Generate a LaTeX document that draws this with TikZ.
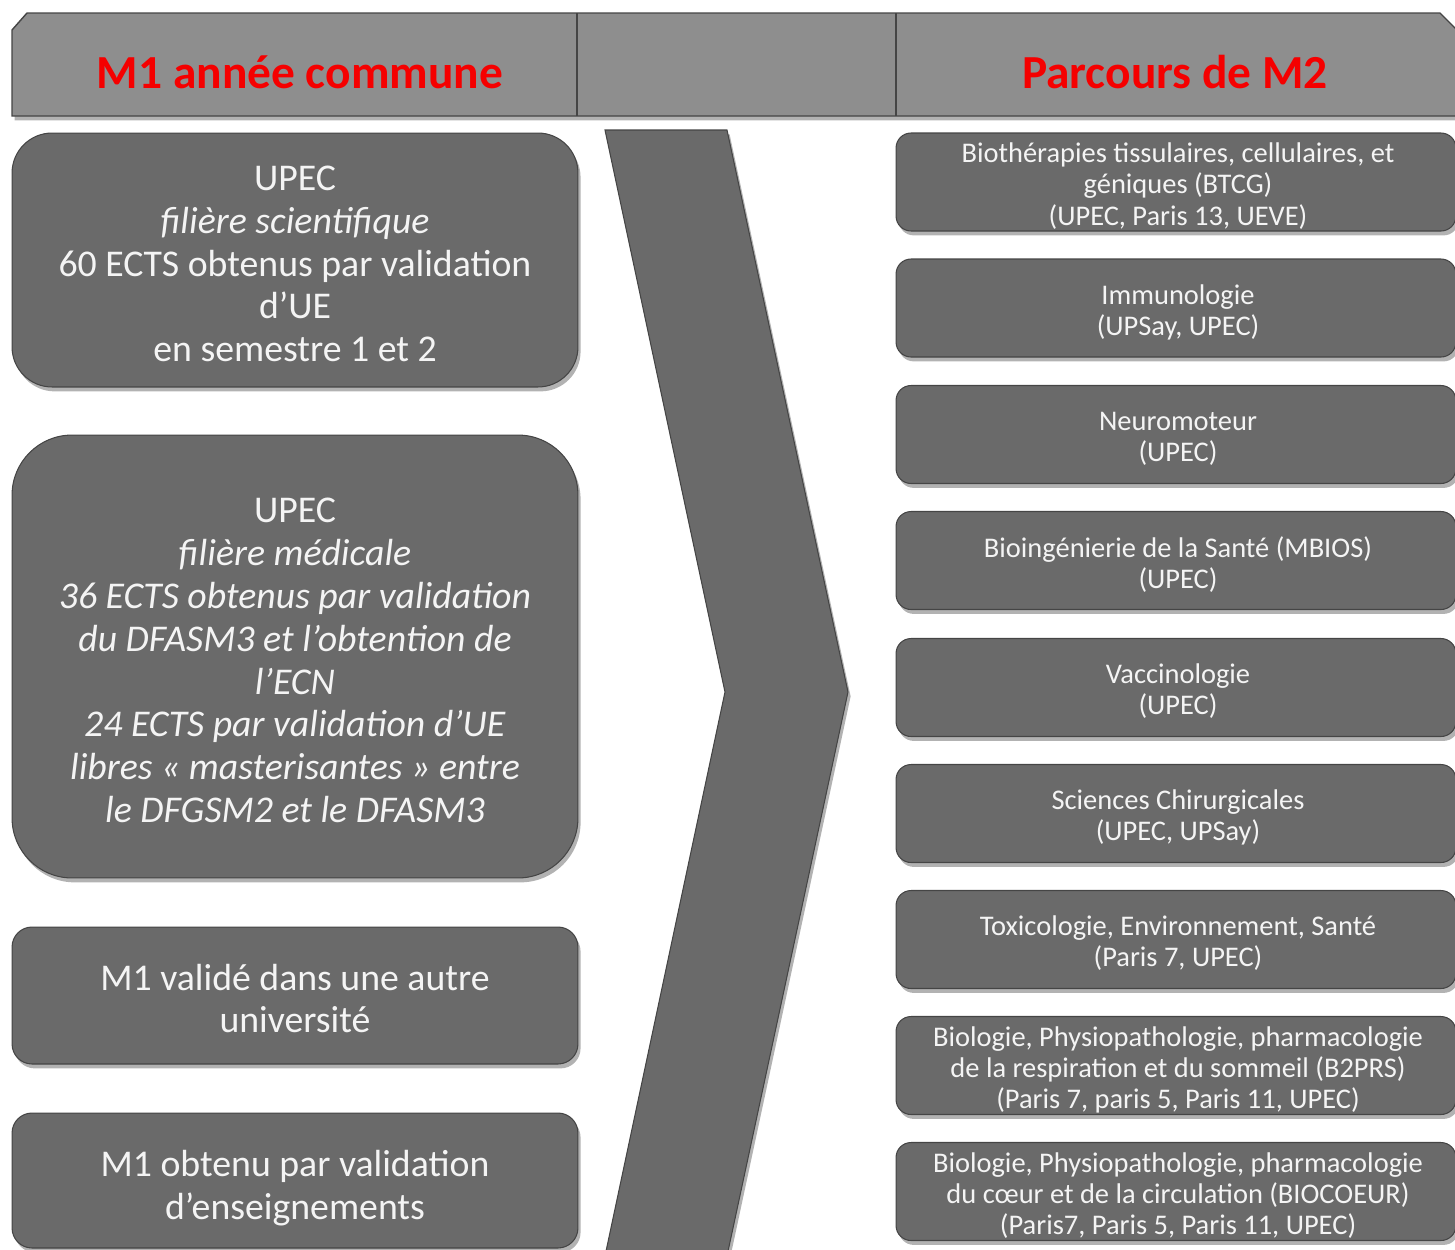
\documentclass[tikz,border=0pt]{standalone}
\usepackage{fontspec}
\setmainfont{Carlito}
\usetikzlibrary{shadows}
\definecolor{hdrfill}{HTML}{8E8E8E}
\definecolor{boxfill}{HTML}{6A6A6A}
\definecolor{edge}{HTML}{454545}
\definecolor{txt}{HTML}{F4F4F4}
\definecolor{titlered}{HTML}{F50000}
\begin{document}
\begin{tikzpicture}[x=0.02cm,y=-0.02cm,
  shd/.style={drop shadow={shadow xshift=1.5pt,shadow yshift=-2.5pt,opacity=0.3,fill=black}},
  leftbox/.style={shd,draw=edge,line width=0.6pt,fill=boxfill,minimum width=11.32cm,inner sep=0pt},
  lefttext/.style={text=txt,align=center,font=\fontsize{21.5}{24.4}\selectfont,inner sep=0pt},
  rightbox/.style={shd,draw=edge,line width=0.6pt,fill=boxfill,minimum width=11.2cm,minimum height=1.96cm,
     rounded corners=0.3cm,inner sep=0pt},
  righttext/.style={text=txt,align=center,font=\fontsize{16.2}{17.7}\selectfont,inner sep=0pt},
  titletext/.style={text=titlered,font=\fontsize{27}{32}\selectfont\bfseries},
]
\path[use as bounding box] (0,0) rectangle (1455,1249);

% header band
\path[shd,draw=edge,line width=0.8pt,fill=hdrfill]
  (12,30) -- (27,13) -- (1440,13) -- (1457,30) -- (1457,116) -- (12,116) -- cycle;
\coordinate (d1t) at (577,13); \coordinate (d1b) at (577,116);
\coordinate (d2t) at (896,13); \coordinate (d2b) at (896,116);
\draw[edge,line width=0.8pt] (d1t) -- (d1b);
\draw[edge,line width=0.8pt] (d2t) -- (d2b);
\node[titletext] (t1) at (300,72) {M1 année commune};
\node[titletext] (t2) at (1175,72) {Parcours de M2};

% chevron
\path[shd,draw=edge,line width=0.6pt,fill=boxfill]
  (605,130) -- (727,130) -- (848,692) -- (727,1256) -- (605,1256) -- (725,692) -- cycle;

% left boxes
\node[leftbox,minimum height=5.08cm,rounded corners=0.8cm] (l1) at (295,260) {};
\node[lefttext] (l1t) at (295,264)
  {UPEC\\ \textit{filière scientifique}\\ 60 ECTS obtenus par validation\\ d’UE\\ en semestre 1 et 2};
\node[leftbox,minimum height=8.86cm,rounded corners=1.2cm] (l2) at (295,656.5) {};
\node[lefttext] (l2t) at (295,660.5)
  {UPEC\\ \textit{filière médicale}\\ \textit{36 ECTS obtenus par validation}\\ \textit{du DFASM3 et l’obtention de}\\ \textit{l’ECN}\\ \textit{24 ECTS par validation d’UE}\\ \textit{libres « masterisantes » entre}\\ \textit{le DFGSM2 et le DFASM3}};
\node[leftbox,minimum height=2.74cm,rounded corners=0.4cm] (l3) at (295,995.5) {};
\node[lefttext] (l3t) at (295,998.5) {M1 validé dans une autre\\ université};
\node[leftbox,minimum height=2.70cm,rounded corners=0.4cm] (l4) at (295,1180.5) {};
\node[lefttext] (l4t) at (295,1188) {M1 obtenu par validation\\ d’enseignements};

% right boxes
\foreach \n/\y in {1/182,2/308,3/434.5,4/560.5,5/687.5,6/813.5,7/939.5,8/1065.5,9/1191.5}
  \node[rightbox] (r\n) at (1176,\y) {};
\node[righttext] (r1t) at (1178,186) {Biothérapies tissulaires, cellulaires, et\\ géniques (BTCG)\\ (UPEC, Paris 13, UEVE)};
\node[righttext] (r2t) at (1178,312) {Immunologie\\ (UPSay, UPEC)};
\node[righttext] (r3t) at (1178,438.5) {Neuromoteur\\ (UPEC)};
\node[righttext] (r4t) at (1178,564.5) {Bioingénierie de la Santé (MBIOS)\\ (UPEC)};
\node[righttext] (r5t) at (1178,691.5) {Vaccinologie\\ (UPEC)};
\node[righttext] (r6t) at (1178,817.5) {Sciences Chirurgicales\\ (UPEC, UPSay)};
\node[righttext] (r7t) at (1178,943.5) {Toxicologie, Environnement, Santé\\ (Paris 7, UPEC)};
\node[righttext] (r8t) at (1178,1069.5) {Biologie, Physiopathologie, pharmacologie\\ de la respiration et du sommeil (B2PRS)\\ (Paris 7, paris 5, Paris 11, UPEC)};
\node[righttext] (r9t) at (1178,1195.5) {Biologie, Physiopathologie, pharmacologie\\ du cœur et de la circulation (BIOCOEUR)\\ (Paris7, Paris 5, Paris 11, UPEC)};
\end{tikzpicture}
\end{document}
